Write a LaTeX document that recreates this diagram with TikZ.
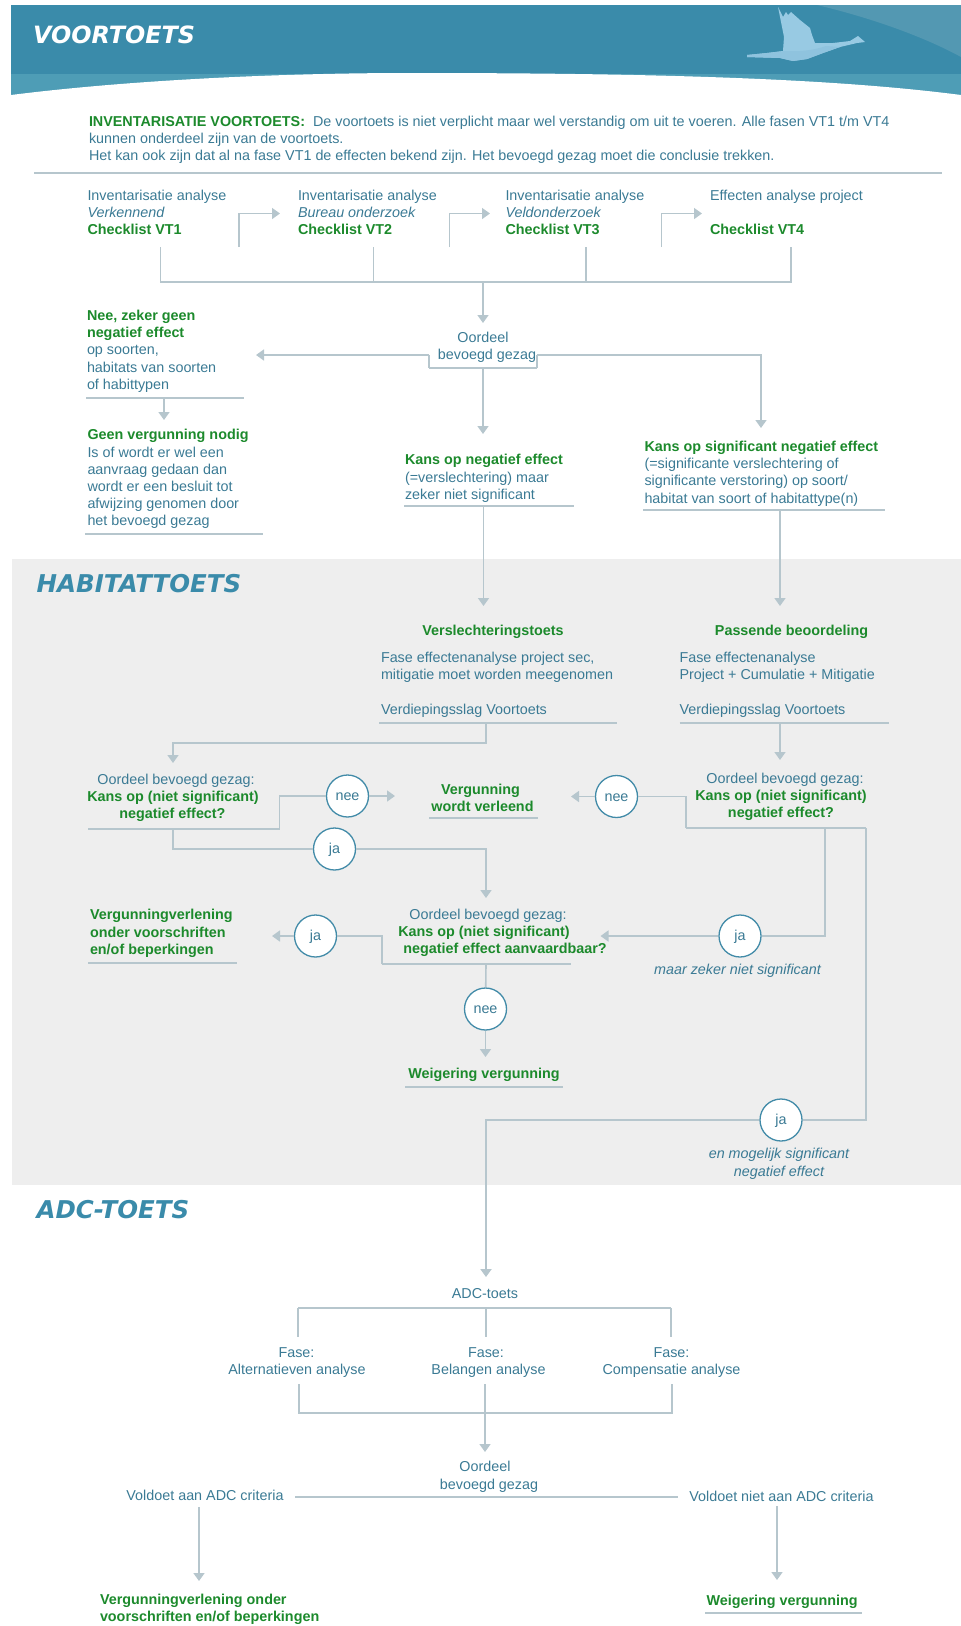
\documentclass[tikz,border=0pt]{standalone}
\usepackage{fontspec}
\setmainfont{Liberation Sans}
\newfontfamily\headf{DejaVu Sans}
\usetikzlibrary{arrows.meta}
\definecolor{txtblue}{HTML}{3A7A94}
\definecolor{grn}{HTML}{1C8A2C}
\definecolor{teal}{HTML}{3A8BAA}
\definecolor{tealb}{HTML}{4E9DB6}
\definecolor{tealc}{HTML}{5398B2}
\definecolor{linec}{HTML}{B6C6CD}
\definecolor{panel}{HTML}{EEEEEE}
\definecolor{ringc}{HTML}{428BA8}
\definecolor{birda}{HTML}{98CAE3}
\definecolor{birdb}{HTML}{8FC3DE}
\newcommand{\gr}[1]{{\bfseries\color{grn}#1}}
\tikzset{
 x=1pt,y=-1pt,
 txt/.style={inner sep=0pt,outer sep=0pt,text=txtblue,font=\fontsize{14.35}{17.2}\selectfont},
 blk/.style={txt,anchor=north west,align=left,execute at begin node={\rule{0pt}{11pt}}},
 one/.style={txt,anchor=base},
 oneg/.style={one,text=grn,font=\fontsize{14.35}{17.2}\selectfont\bfseries},
 onei/.style={one,font=\fontsize{14.35}{17.2}\selectfont\itshape},
 head/.style={inner sep=0pt,anchor=base west,font=\fontsize{24.5}{28}\selectfont\headf\bfseries\itshape},
 lnk/.style={draw=linec,line width=1.6pt},
 rl/.style={draw=linec,line width=2.6pt},
 arr/.style={-{Triangle[width=11pt,length=8pt]},linec},
 ring/.style={circle,draw=ringc,fill=white,line width=1.3pt,minimum size=42pt,inner sep=0pt,text=txtblue,text height=9pt,text depth=0pt,font=\fontsize{14.35}{17.2}\selectfont},
}
\begin{document}
\begin{tikzpicture}
\useasboundingbox (0,0) rectangle (961,1626);
% header
\fill[teal] (11,5) rectangle (961,74);
\fill[tealb] (11,74) rectangle (961,96);
\fill[tealc] (817,5) .. controls (880,20) and (930,40) .. (961,57) -- (961,5) -- cycle;
\fill[white] (11,95) .. controls (130,80) and (280,73) .. (410,73) .. controls (650,73) and (830,78) .. (961,95) -- (961,97) -- (11,97) -- cycle;
\fill[birda] (778,7) -- (783,17) -- (786,12) -- (788,15) -- (791,12) -- (800,20) -- (810,28) -- (812,35) -- (815,43) -- (833,43) -- (850,41) -- (858,36) -- (865,42) -- (857,43) -- (840,47) -- (823,53) -- (807,59) -- (793,61) -- (780,58) -- (747,57) -- (747,55) -- (767,53) -- (783,51) -- (784,37) -- cycle;
\fill[birdb] (785,51) .. controls (800,52) and (815,50) .. (826,46) -- (840,47) -- (823,53) -- (807,59) -- (793,61) -- (780,58) -- (747,57) -- (747,55) -- (767,53) -- cycle;
\node[head,text=white,font=\fontsize{23.8}{28}\selectfont\headf\bfseries\itshape] (tVoor) at (33,43) {VOORTOETS};
% panel
\fill[panel] (12,559) rectangle (961,1185);
\node[head,text=teal] (tHab) at (36.5,592) {HABITATTOETS};
\node[head,text=teal] (tAdc) at (36.5,1218) {ADC-TOETS};
% intro
\node[blk] (intro) at (89,116) {\gr{INVENTARISATIE VOORTOETS:}\hspace{4pt} De voortoets is niet verplicht maar wel verstandig om uit te voeren. Alle fasen VT1 t/m VT4\\kunnen onderdeel zijn van de voortoets.\\Het kan ook zijn dat al na fase VT1 de effecten bekend zijn. Het bevoegd gezag moet die conclusie trekken.};
\coordinate (ruleA) at (34,173); \coordinate (ruleB) at (942,173);
\path[rl] (ruleA) -- (ruleB);
% phases
\node[blk] (vt1) at (87.5,190) {Inventarisatie analyse\\\textit{Verkennend}\\\gr{Checklist VT1}};
\node[blk] (vt2) at (298,190) {Inventarisatie analyse\\\textit{Bureau onderzoek}\\\gr{Checklist VT2}};
\node[blk] (vt3) at (505.5,190) {Inventarisatie analyse\\\textit{Veldonderzoek}\\\gr{Checklist VT3}};
\node[blk] (vt4) at (710,190) {Effecten analyse project\\[17.2pt]\gr{Checklist VT4}};
\coordinate (e1) at (239,247); \coordinate (e1t) at (280,213.5);
\coordinate (e2) at (449.5,247); \coordinate (e2t) at (490,213.5);
\coordinate (e3) at (661.5,247); \coordinate (e3t) at (702,213.5);
\draw[lnk,arr] (e1) |- (e1t);
\draw[lnk,arr] (e2) |- (e2t);
\draw[lnk,arr] (e3) |- (e3t);
\coordinate (b1) at (160.5,247); \coordinate (b2) at (373.5,247); \coordinate (b3) at (586,247); \coordinate (b4) at (791,247);
\coordinate (bl) at (160.5,282); \coordinate (bm) at (483,282); \coordinate (br) at (791,282);
\path[lnk] (b1) -- (bl) -- (br) -- (b4);
\path[lnk] (b2) -- (373.5,282);
\path[lnk] (b3) -- (586,282);
\coordinate (oT) at (483,323);
\draw[lnk,arr] (bm) -- (oT);
% oordeel 1
\node[one] (o1a) at (483,342.5) {Oordeel};
\node[one] (o1b) at (487,359.5) {bevoegd gezag};
\coordinate (bxL) at (429,355); \coordinate (bxR) at (537,355); \coordinate (bxBL) at (429,368); \coordinate (bxBR) at (537,368); \coordinate (bxM) at (483,368);
\path[lnk] (bxL) -- (bxBL); \path[lnk] (bxR) -- (bxBR); \path[rl] (bxBL) -- (bxBR);
\coordinate (aL) at (256,355); \coordinate (aR) at (761,428); \coordinate (aM) at (483,434);
\draw[lnk,arr] (bxL) -- (aL);
\draw[lnk,arr] (bxR) -| (aR);
\draw[lnk,arr] (bxM) -- (aM);
% left
\node[blk] (nee) at (87,310) {\gr{Nee, zeker geen}\\\gr{negatief effect}\\op soorten,\\habitats van soorten\\of habittypen};
\coordinate (r1a) at (86,398); \coordinate (r1b) at (244,398); \coordinate (r1m) at (164,398); \coordinate (r1t) at (164,420);
\path[rl] (r1a) -- (r1b);
\draw[lnk,arr] (r1m) -- (r1t);
\node[blk] (geen) at (87.5,429.5) {\gr{Geen vergunning nodig}\\Is of wordt er wel een\\aanvraag gedaan dan\\wordt er een besluit tot\\afwijzing genomen door\\het bevoegd gezag};
\coordinate (r2a) at (85,534); \coordinate (r2b) at (263,534);
\path[rl] (r2a) -- (r2b);
% mid
\node[blk] (kn) at (405,454.5) {\gr{Kans op negatief effect}\\(=verslechtering) maar\\zeker niet significant};
\coordinate (r3a) at (404,506); \coordinate (r3b) at (574,506); \coordinate (r3m) at (483.5,506); \coordinate (r3t) at (483.5,606);
\path[lnk] (r3a) -- (r3b);
\draw[lnk,arr] (r3m) -- (r3t);
\node[blk] (ks) at (644.5,441) {\gr{Kans op significant negatief effect}\\(=significante verslechtering of\\significante verstoring) op soort/\\habitat van soort of habitattype(n)};
\coordinate (r4a) at (643,510); \coordinate (r4b) at (885,510); \coordinate (r4m) at (780,510); \coordinate (r4t) at (780,606);
\path[rl] (r4a) -- (r4b);
\draw[lnk,arr] (r4m) -- (r4t);
% toetsen
\node[oneg] (vs) at (493,635) {Verslechteringstoets};
\node[oneg] (pb) at (791.5,635) {Passende beoordeling};
\node[blk] (vsb) at (381,652) {Fase effectenanalyse project sec,\\mitigatie moet worden meegenomen\\[17.6pt]Verdiepingsslag Voortoets};
\node[blk] (pbb) at (679.5,652) {Fase effectenanalyse\\Project + Cumulatie + Mitigatie\\[17.6pt]Verdiepingsslag Voortoets};
\coordinate (r5a) at (379,723); \coordinate (r5b) at (617,723); \coordinate (r5m) at (486,723); \coordinate (r5t) at (173,763);
\path[lnk] (r5a) -- (r5b);
\draw[lnk,arr] (r5m) -- (486,743) -- (173,743) -- (r5t);
\coordinate (r6a) at (679.5,723); \coordinate (r6b) at (889,723); \coordinate (r6m) at (780,723); \coordinate (r6t) at (780,760);
\path[lnk] (r6a) -- (r6b);
\draw[lnk,arr] (r6m) -- (r6t);
% oordeel left
\node[one] (oLa) at (176,784) {Oordeel bevoegd gezag:};
\node[oneg] (oLb) at (173,801.5) {Kans op (niet significant)};
\node[oneg] (oLc) at (172.5,818.5) {negatief effect?};
\node[ring] (neeL) at (347.5,796) {nee};
\node[ring] (jaL) at (334.5,849) {ja};
\coordinate (r7a) at (88,829); \coordinate (r7b) at (279.5,829); \coordinate (r7m) at (173,829); \coordinate (neeLt) at (395,796); \coordinate (jaLt) at (486,898);
\path[rl] (r7a) -- (r7b);
\path[lnk] (r7b) |- (neeL);
\draw[lnk,arr] (neeL) -- (neeLt);
\path[lnk] (r7m) |- (jaL);
\draw[lnk,arr] (jaL) -| (jaLt);
% verleend
\node[oneg] (vwa) at (480.5,794.5) {Vergunning};
\node[oneg] (vwb) at (482.5,811.5) {wordt verleend};
\coordinate (r8a) at (429,818); \coordinate (r8b) at (538,818);
\path[rl] (r8a) -- (r8b);
% oordeel right
\node[one] (oRa) at (785,783) {Oordeel bevoegd gezag:};
\node[oneg] (oRb) at (781,800.5) {Kans op (niet significant)};
\node[oneg] (oRc) at (781,817.5) {negatief effect?};
\node[ring] (neeR) at (616.5,796.5) {nee};
\coordinate (neeRt) at (571,796.5);
\draw[lnk,arr] (neeR) -- (neeRt);
\coordinate (r9a) at (685.7,828); \coordinate (r9b) at (866,828); \coordinate (r9m) at (825,828);
\path[lnk] (neeR) -| (r9a);
\path[rl] (r9a) -- (r9b);
% ja right
\node[ring] (jaR) at (740,936) {ja};
\coordinate (jaRt) at (600.5,936);
\path[lnk] (r9m) |- (jaR);
\draw[lnk,arr] (jaR) -- (jaRt);
\node[onei] (mz) at (737.5,974) {maar zeker niet significant};
% ja bottom
\node[ring] (jaB) at (781,1120) {ja};
\coordinate (adcT) at (486,1277);
\path[rl] (r9b) |- (jaB);
\draw[rl,arr,line width=2pt] (jaB) -| (adcT);
\node[onei] (em) at (779,1158.5) {en mogelijk significant};
\node[onei] (ne) at (779,1176) {negatief effect};
% oordeel mid
\node[one] (oMa) at (488,919.5) {Oordeel bevoegd gezag:};
\node[oneg] (oMb) at (484,936.5) {Kans op (niet significant)};
\node[oneg] (oMc) at (505,953.5) {negatief effect aanvaardbaar?};
\coordinate (r10a) at (382,964); \coordinate (r10b) at (570.5,964); \coordinate (r10m) at (486,964);
\path[rl] (r10a) -- (r10b);
\node[ring] (jaM) at (315.5,936) {ja};
\coordinate (jaMt) at (272,936);
\path[lnk] (r10a) |- (jaM);
\draw[lnk,arr] (jaM) -- (jaMt);
\node[ring] (neeM) at (485.5,1009) {nee};
\coordinate (neeMt) at (485.5,1057);
\path[lnk] (r10m) -- (neeM);
\draw[lnk,arr] (neeM) -- (neeMt);
\node[blk,text=grn,font=\fontsize{14.35}{17.2}\selectfont\bfseries] (vv) at (90,909.5) {Vergunningverlening\\onder voorschriften\\en/of beperkingen};
\coordinate (r11a) at (88,963); \coordinate (r11b) at (237,963);
\path[lnk] (r11a) -- (r11b);
\node[oneg] (wv) at (484,1078) {Weigering vergunning};
\coordinate (r12a) at (405,1087); \coordinate (r12b) at (562.5,1087);
\path[rl] (r12a) -- (r12b);
% ADC
\node[one] (adc) at (485,1298) {ADC-toets};
\coordinate (t1) at (298,1337); \coordinate (t2) at (486,1337); \coordinate (t3) at (671,1337);
\coordinate (tl) at (298,1308); \coordinate (tm) at (486,1308); \coordinate (tr) at (671,1308);
\path[rl] (tl) -- (tr);
\path[lnk] (tl) -- (t1); \path[lnk] (tm) -- (t2); \path[lnk] (tr) -- (t3);
\node[one] (f1a) at (296.5,1357) {Fase:};
\node[one] (f1b) at (297,1374) {Alternatieven analyse};
\node[one] (f2a) at (486,1357) {Fase:};
\node[one] (f2b) at (488.5,1374) {Belangen analyse};
\node[one] (f3a) at (671.5,1357) {Fase:};
\node[one] (f3b) at (671.5,1374) {Compensatie analyse};
\coordinate (u1) at (299,1384); \coordinate (u2) at (485,1384); \coordinate (u3) at (672,1384);
\coordinate (ul) at (299,1413); \coordinate (ur) at (672,1413); \coordinate (uT) at (485,1452);
\path[lnk] (u1) -- (ul) -- (ur) -- (u3);
\draw[lnk,arr] (u2) -- (uT);
\node[one] (o3a) at (485,1471) {Oordeel};
\node[one] (o3b) at (489,1489) {bevoegd gezag};
\coordinate (v1) at (295,1497); \coordinate (v2) at (678,1497);
\path[rl] (v1) -- (v2);
\node[one] (vA) at (205,1500) {Voldoet aan ADC criteria};
\node[one] (vN) at (781.5,1501) {Voldoet niet aan ADC criteria};
\coordinate (w1) at (199,1507); \coordinate (w1t) at (199,1581); \coordinate (w2) at (777,1506); \coordinate (w2t) at (777,1580);
\draw[lnk,arr] (w1) -- (w1t);
\draw[lnk,arr] (w2) -- (w2t);
\node[blk,text=grn,font=\fontsize{14.35}{17.2}\selectfont\bfseries] (vo) at (100,1594) {Vergunningverlening onder\\voorschriften en/of beperkingen};
\node[txt,anchor=base west,text=grn,font=\fontsize{14.35}{17.2}\selectfont\bfseries] (wv2) at (706.5,1605) {Weigering vergunning};
\coordinate (r13a) at (705,1613); \coordinate (r13b) at (861.5,1613);
\path[rl] (r13a) -- (r13b);
\end{tikzpicture}
\end{document}
